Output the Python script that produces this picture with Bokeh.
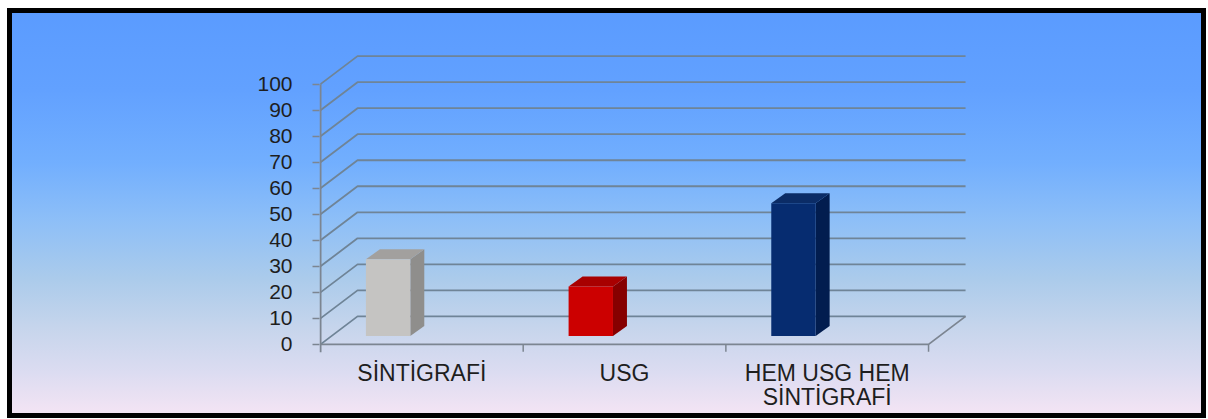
from bokeh.plotting import figure
from bokeh.models import Range1d, FixedTicker
from bokeh.core.properties import value
from bokeh.embed import file_html
from bokeh.resources import INLINE

# ---- data ----
categories = ["SİNTİGRAFİ", "USG", "HEM USG HEM\nSİNTİGRAFİ"]
values = [29.5, 19, 51]
y_ticks = [0, 10, 20, 30, 40, 50, 60, 70, 80, 90, 100]
front_colors = ["#c5c4c2", "#cc0000", "#062c70"]
side_colors = ["#8f8e8c", "#860000", "#021d4f"]
top_colors = ["#a2a09e", "#a80000", "#0b2c66"]

# ---- 3D layout constants (positions / sizes, not data) ----
DX, DY = 0.1826, 10.76      # depth of the walls (category units, value units)
BAR_L, BAR_R = 0.224, 0.443  # bar front face within its category
BAR_D = 3.2                  # bar base lift (depth position)
BDX, BDY = 0.069, 3.85       # bar depth
LABEL_Y = -5.9
GRID = "#6f8497"
AXIS = "#7c8591"

n = len(categories)
label_x = [i + 0.5 for i in range(n)]

p = figure(width=1199, height=410,
           x_range=Range1d(-0.005, 3.355), y_range=Range1d(-26.55, 116),
           output_backend="svg", toolbar_location=None,
           x_axis_location=None,
           min_border_left=312, min_border_right=206,
           min_border_top=34, min_border_bottom=5)
p.margin = (8, 2, 1, 7)
p.background_fill_color = None
p.border_fill_color = None
p.outline_line_color = None
p.xgrid.visible = False
p.ygrid.visible = False
p.styles = {
    "background": "linear-gradient(to bottom, #5a9bff 0%, #62a1ff 20%, #72affe 38%, "
                  "#8ebff7 52%, #abcbeb 66%, #c6d5ec 78%, #dcdcf1 89%, #f6e5f4 100%)",
    "box-shadow": "inset 0 0 0 5px #000000",
}

# y axis
ya = p.yaxis[0]
ya.ticker = FixedTicker(ticks=y_ticks)
ya.axis_line_color = None
ya.major_tick_line_color = AXIS
ya.major_tick_line_width = 1.5
ya.major_tick_in = 0
ya.major_tick_out = 7
ya.minor_tick_line_color = None
ya.major_label_standoff = 20
ya.major_label_text_font = "Liberation Sans"
ya.major_label_text_font_size = "21px"
ya.major_label_text_color = "#1e1e1e"

# side + back wall grid lines
gx = [[0, DX, n + DX] for t in y_ticks]
gy = [[t, t + DY, t + DY] for t in y_ticks]
p.multi_line(gx, gy, line_color=GRID, line_width=1.8)

# floor front and right edges
p.line([0, n, n + DX], [0, 0, DY], line_color=AXIS, line_width=1.8)

# front vertical axis line
p.segment(x0=[0], y0=[-3.0], x1=[0], y1=[max(y_ticks)], line_color=AXIS, line_width=2)

# category boundary ticks
bounds = list(range(1, n + 1))
p.segment(x0=bounds, y0=[0] * n, x1=bounds, y1=[-2.8] * n, line_color=AXIS, line_width=1.5)

# bars
lefts = [i + BAR_L for i in range(n)]
rights = [i + BAR_R for i in range(n)]
tops = [v + BAR_D for v in values]

side_xs = [[r, r + BDX, r + BDX, r] for r in rights]
side_ys = [[BAR_D, BAR_D + BDY, t + BDY, t] for t in tops]
p.patches(side_xs, side_ys, fill_color=side_colors, line_color=None)

top_xs = [[l, l + BDX, r + BDX, r] for l, r in zip(lefts, rights)]
top_ys = [[t, t + BDY, t + BDY, t] for t in tops]
p.patches(top_xs, top_ys, fill_color=top_colors, line_color=None)

p.quad(left=lefts, right=rights, bottom=[BAR_D] * n, top=tops,
       fill_color=front_colors, line_color=None)

# category labels (centred on each category)
p.text(x=label_x, y=[LABEL_Y] * n, text=categories,
       text_align="center", text_baseline="top",
       text_font=value("Liberation Sans"), text_font_size="23px",
       text_line_height=0.95, text_color="#1e1e1e")

open("out.html", "w").write(file_html(p, INLINE))
